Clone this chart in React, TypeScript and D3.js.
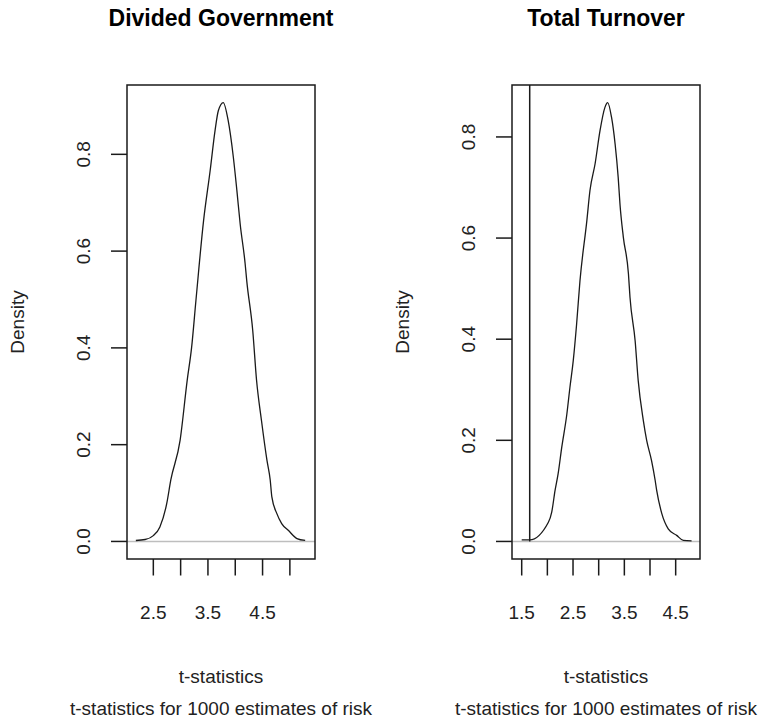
import React from "react";
import * as d3 from "d3";

// ---- data ----
const panelTitles = ["Divided Government", "Total Turnover"];
const xLabel = "t-statistics";
const subLabel = "t-statistics for 1000 estimates of risk";
const yLabel = "Density";

const dividedX = [2.18, 2.35, 2.5, 2.62, 2.745, 2.82, 2.99, 3.12, 3.2, 3.28, 3.42, 3.54, 3.63, 3.69, 3.78, 3.87, 3.965, 4.03, 4.09, 4.18, 4.21, 4.32, 4.39, 4.48, 4.58, 4.64, 4.67, 4.76, 4.85, 4.97, 5.13, 5.28];
const dividedY = [0.002, 0.004, 0.012, 0.03, 0.078, 0.127, 0.209, 0.333, 0.4, 0.498, 0.663, 0.766, 0.849, 0.89, 0.907, 0.87, 0.794, 0.725, 0.656, 0.575, 0.539, 0.436, 0.333, 0.25, 0.168, 0.127, 0.092, 0.058, 0.037, 0.023, 0.006, 0.002];

const turnoverX = [1.5, 1.656, 2.02, 2.085, 2.15, 2.21, 2.28, 2.38, 2.44, 2.505, 2.57, 2.635, 2.77, 2.83, 2.93, 3.025, 3.12, 3.175, 3.25, 3.32, 3.38, 3.415, 3.48, 3.58, 3.61, 3.71, 3.77, 3.87, 3.935, 4.03, 4.1, 4.13, 4.23, 4.355, 4.52, 4.65, 4.81];
const turnoverY = [0.003, 0.003, 0.038, 0.058, 0.101, 0.134, 0.186, 0.252, 0.305, 0.358, 0.43, 0.515, 0.635, 0.694, 0.747, 0.812, 0.858, 0.868, 0.839, 0.786, 0.72, 0.667, 0.602, 0.529, 0.483, 0.397, 0.318, 0.239, 0.2, 0.16, 0.121, 0.101, 0.055, 0.025, 0.012, 0.002, 0.001];

const dividedXDomain = [2.018, 5.46];
const turnoverXDomain = [1.311, 4.974];
const dividedXTicks = [2.5, 3, 3.5, 4, 4.5, 5];
const dividedXLabels = [2.5, 3.5, 4.5];
const turnoverXTicks = [1.5, 2, 2.5, 3, 3.5, 4, 4.5];
const turnoverXLabels = [1.5, 2.5, 3.5, 4.5];
const yTicks = [0, 0.2, 0.4, 0.6, 0.8];
const turnoverVLine = 1.656;

const FONT = "'Liberation Sans', Arial, Helvetica, sans-serif";

type PanelProps = {
  left: number;
  title: string;
  xs: number[];
  ys: number[];
  xDomain: number[];
  xTicks: number[];
  xLabels: number[];
  vline?: number;
};

function Panel({ left, title, xs, ys, xDomain, xTicks, xLabels, vline }: PanelProps) {
  const top = 85;
  const bottom = 559;
  const width = 188;
  const right = left + width;
  const ymax = d3.max(ys) as number;
  const pad = ymax * 0.04;
  const x = d3.scaleLinear().domain(xDomain).range([left, right]);
  const y = d3.scaleLinear().domain([-pad, ymax + pad]).range([bottom, top]);
  const pts = xs.map((v, i) => [v, ys[i]] as [number, number]);
  const line = d3
    .line<[number, number]>()
    .x((d) => x(d[0]))
    .y((d) => y(d[1]))
    .curve(d3.curveMonotoneX);
  const cx = (left + right) / 2;
  const fmt = d3.format(".1f");
  const stroke = "#1a1a1a";
  return (
    <g>
      <text x={cx} y={26} textAnchor="middle" fontFamily={FONT} fontWeight="bold" fontSize={23} fill="#000">
        {title}
      </text>
      {/* zero line */}
      <line x1={left} x2={right} y1={y(0)} y2={y(0)} stroke="#bebebe" strokeWidth={1.5} />
      {vline !== undefined && (
        <line x1={x(vline)} x2={x(vline)} y1={y(0)} y2={top} stroke={stroke} strokeWidth={1.5} />
      )}
      <path d={line(pts) || ""} fill="none" stroke={stroke} strokeWidth={1.3} />
      <rect x={left} y={top} width={width} height={bottom - top} fill="none" stroke={stroke} strokeWidth={1.5} />
      {/* x axis */}
      {xTicks.map((t) => (
        <line key={"xt" + t} x1={x(t)} x2={x(t)} y1={bottom} y2={bottom + 16.5} stroke={stroke} strokeWidth={1.5} />
      ))}
      {xLabels.map((t) => (
        <text key={"xl" + t} x={x(t)} y={619} textAnchor="middle" fontFamily={FONT} fontSize={19} fill="#222">
          {fmt(t)}
        </text>
      ))}
      {/* y axis */}
      {yTicks.map((t) => (
        <line key={"yt" + t} x1={left - 16} x2={left} y1={y(t)} y2={y(t)} stroke={stroke} strokeWidth={1.5} />
      ))}
      {yTicks.map((t) => (
        <text
          key={"yl" + t}
          transform={`translate(${left - 37},${y(t)}) rotate(-90)`}
          textAnchor="middle"
          fontFamily={FONT}
          fontSize={19}
          fill="#222"
        >
          {fmt(t)}
        </text>
      ))}
      <text
        transform={`translate(${left - 103},${(top + bottom) / 2}) rotate(-90)`}
        textAnchor="middle"
        fontFamily={FONT}
        fontSize={19}
        fill="#222"
      >
        {yLabel}
      </text>
      <text x={cx} y={683} textAnchor="middle" fontFamily={FONT} fontSize={19} fill="#222">
        {xLabel}
      </text>
      <text x={cx} y={715} textAnchor="middle" fontFamily={FONT} fontSize={19} fill="#222">
        {subLabel}
      </text>
    </g>
  );
}

export default function App() {
  return (
    <svg
      width={764}
      height={721}
      viewBox="0 0 764 721"
      style={{ position: "absolute", left: 0, top: 0, background: "#fff" }}
    >
      <rect x={0} y={0} width={764} height={721} fill="#fff" />
      <Panel
        left={127}
        title={panelTitles[0]}
        xs={dividedX}
        ys={dividedY}
        xDomain={dividedXDomain}
        xTicks={dividedXTicks}
        xLabels={dividedXLabels}
      />
      <Panel
        left={512}
        title={panelTitles[1]}
        xs={turnoverX}
        ys={turnoverY}
        xDomain={turnoverXDomain}
        xTicks={turnoverXTicks}
        xLabels={turnoverXLabels}
        vline={turnoverVLine}
      />
    </svg>
  );
}
